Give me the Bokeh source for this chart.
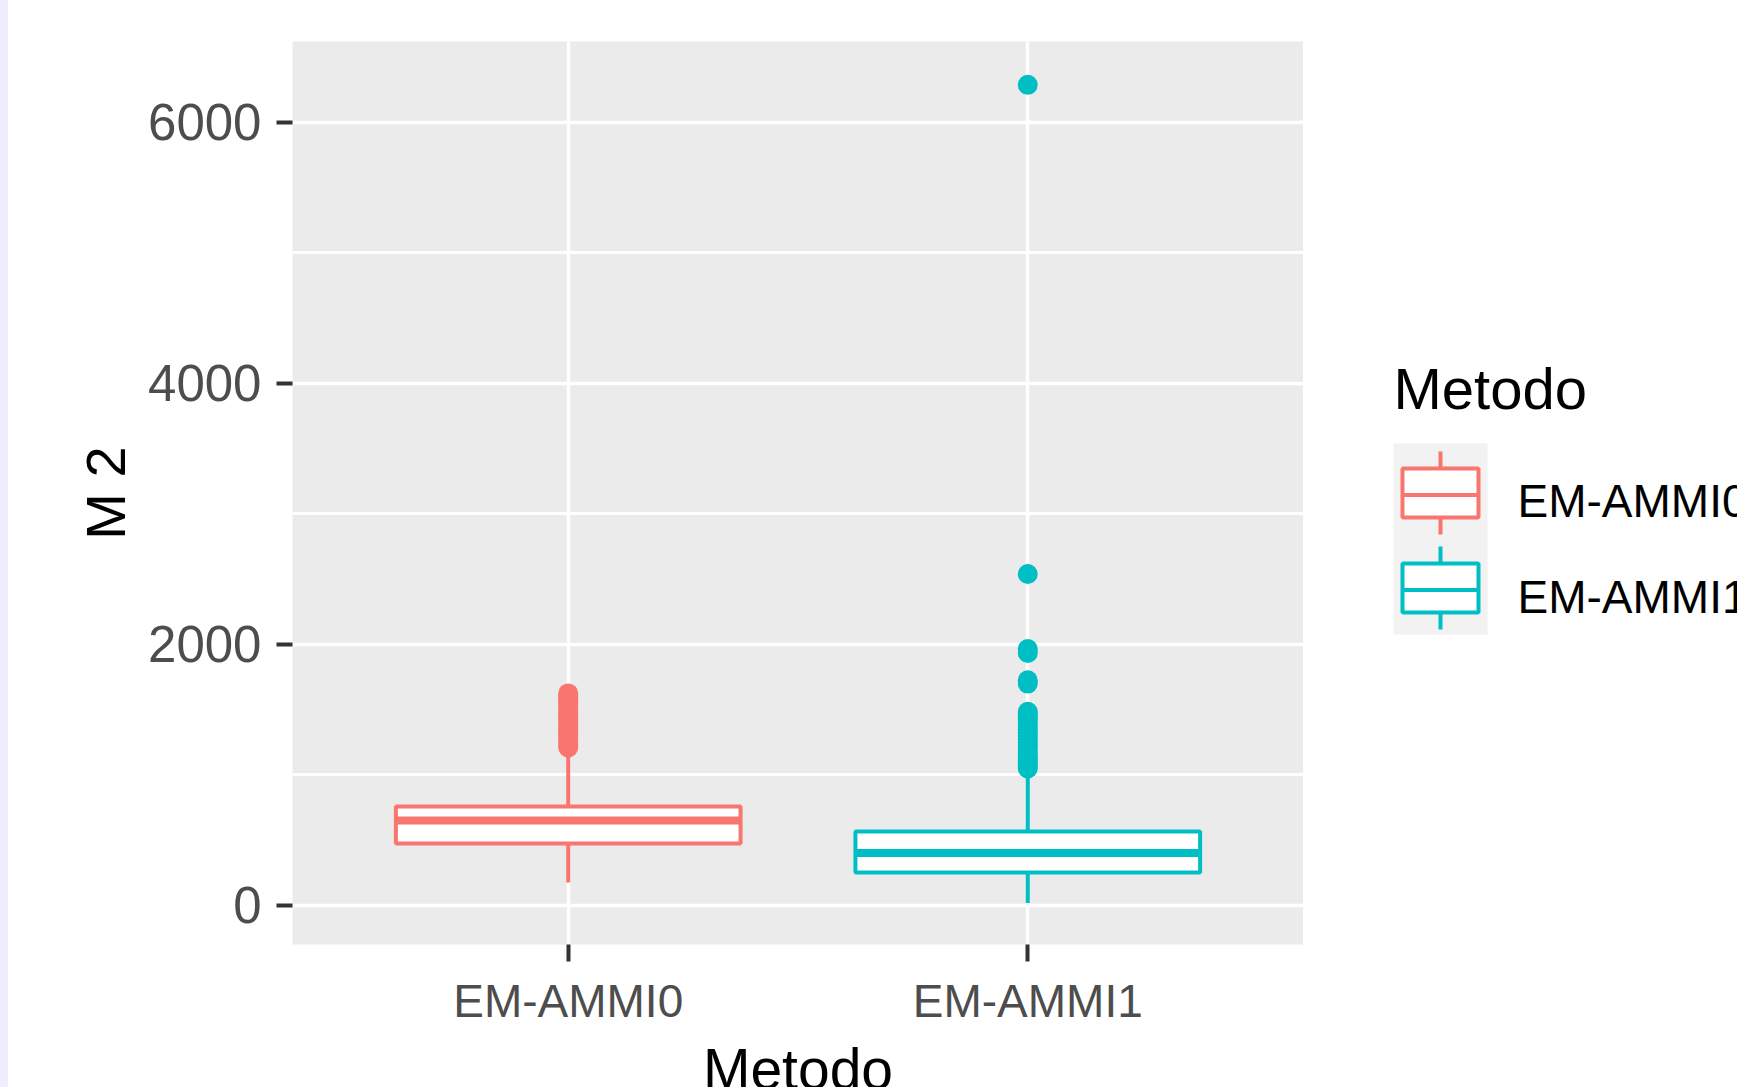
from bokeh.plotting import figure
from bokeh.models import FactorRange, Range1d, FixedTicker, ColumnDataSource, GlobalInlineStyleSheet
from bokeh.transform import dodge
from bokeh.layouts import row
from bokeh.embed import file_html
from bokeh.resources import INLINE
from bokeh.core.properties import value

# ---------------- data ----------------
metodos = ["EM-AMMI0", "EM-AMMI1"]
colors = ["#F8766D", "#00BFC4"]
q1 = [475, 253]
median = [651, 402]
q3 = [759, 567]
lower_whisker = [176, 19]
upper_whisker = [1160, 1030]
outliers_ammi0 = [1211, 1230, 1250, 1270, 1290, 1310, 1330, 1350, 1370, 1390, 1410,
                  1430, 1450, 1470, 1490, 1510, 1530, 1550, 1570, 1590, 1610, 1625]
outliers_ammi1 = [1050, 1070, 1090, 1110, 1130, 1150, 1175, 1200, 1225, 1250, 1275,
                  1300, 1325, 1350, 1375, 1400, 1425, 1450, 1470, 1484,
                  1700, 1725, 1935, 1965, 2540, 6288]
y_ticks = [0, 2000, 4000, 6000]
y_minor = [1000, 3000, 5000]

FONT = "Liberation Sans"
H = 1110
TOP, BOTTOM = 41, 166

# ---------------- main panel ----------------
p = figure(x_range=FactorRange(factors=metodos, range_padding=0.1, range_padding_units="absolute"),
           y_range=Range1d(-299, 6620),
           width=1303, height=H, output_backend="svg", toolbar_location=None,
           min_border_left=292, min_border_right=0, min_border_top=TOP, min_border_bottom=BOTTOM)
p.background_fill_color = "#EBEBEB"
p.border_fill_color = None
p.outline_line_color = None

p.yaxis.ticker = FixedTicker(ticks=y_ticks, minor_ticks=y_minor)
p.ygrid.grid_line_color = "white"
p.ygrid.grid_line_width = 3.5
p.ygrid.minor_grid_line_color = "white"
p.ygrid.minor_grid_line_width = 3
p.xgrid.grid_line_color = "white"
p.xgrid.grid_line_width = 3.5

for ax in (p.xaxis, p.yaxis):
    ax.axis_line_color = None
    ax.major_tick_line_color = "#333333"
    ax.major_tick_line_width = 4
    ax.major_tick_in = 0
    ax.minor_tick_line_color = None
    ax.major_label_text_font = FONT
    ax.major_label_text_color = "#4D4D4D"
    ax.axis_label_text_font = FONT
    ax.axis_label_text_font_style = "normal"
    ax.axis_label_text_color = "black"
p.yaxis.major_label_text_font_size = "51px"
p.xaxis.major_label_text_font_size = "46px"
p.yaxis.major_tick_out = 16
p.xaxis.major_tick_out = 17
p.yaxis.major_label_standoff = 15
p.xaxis.major_label_standoff = 13
p.yaxis.axis_label = "M 2"
p.yaxis.axis_label_text_font_size = "56px"
p.yaxis.axis_label_standoff = 8
p.xaxis.axis_label = "Metodo"
p.xaxis.axis_label_text_font_size = "57px"
p.xaxis.axis_label_standoff = 7

src = ColumnDataSource(dict(metodo=metodos, color=colors, q1=q1, q3=q3, med=median,
                            lo=lower_whisker, hi=upper_whisker))
p.segment(x0="metodo", x1="metodo", y0="q3", y1="hi", line_color="color", line_width=4, source=src)
p.segment(x0="metodo", x1="metodo", y0="q1", y1="lo", line_color="color", line_width=4, source=src)
p.vbar(x="metodo", top="q3", bottom="q1", width=0.75, fill_color="white",
       line_color="color", line_width=4, source=src)
p.segment(x0=dodge("metodo", -0.375, range=p.x_range), x1=dodge("metodo", 0.375, range=p.x_range),
          y0="med", y1="med", line_color="color", line_width=8, source=src)

for m, c, outs in zip(metodos, colors, [outliers_ammi0, outliers_ammi1]):
    p.scatter(x=[m] * len(outs), y=outs, marker="circle", size=20, fill_color=c, line_color=None)

# ---------------- legend (page-pixel coordinates) ----------------
lg = figure(width=434, height=H, x_range=Range1d(1303, 1737), y_range=Range1d(H - BOTTOM, TOP),
            output_backend="svg", toolbar_location=None,
            min_border_left=0, min_border_right=0, min_border_top=TOP, min_border_bottom=BOTTOM,
            x_axis_location=None, y_axis_location=None)
lg.outline_line_color = None
lg.grid.visible = False
lg.background_fill_color = "white"
lg.border_fill_color = "white"

lg.text(x=[1393], y=[388], text=["Metodo"], text_font=value(FONT), text_font_size="58px",
        text_color="black", text_baseline="alphabetic")
lg.quad(left=[1393], right=[1487], top=[443], bottom=[634], fill_color="#F2F2F2", line_color=None)
key_cy = [492.5, 587.5]
kx = 1440
for cy, c in zip(key_cy, colors):
    lg.segment(x0=[kx, kx], x1=[kx, kx], y0=[cy - 41.5, cy + 24.5], y1=[cy - 24.5, cy + 41.5],
               line_color=c, line_width=4)
    lg.quad(left=[1402], right=[1478], top=[cy - 24.5], bottom=[cy + 24.5],
            fill_color="white", line_color=c, line_width=4)
    lg.segment(x0=[1402], x1=[1478], y0=[cy + 2], y1=[cy + 2], line_color=c, line_width=4)
lg.text(x=[1517, 1517], y=[500, 596], text=metodos, text_font=value(FONT), text_font_size="46px",
        text_color="black", text_baseline="alphabetic")

page_css = GlobalInlineStyleSheet(css=(
    "html, body { overflow: hidden; }"
    "body { background: linear-gradient(to right, #EEEEFE 8px, #FFFFFF 8px); }"))
layout = row(p, lg, stylesheets=[page_css])
open("out.html", "w").write(file_html(layout, INLINE))
